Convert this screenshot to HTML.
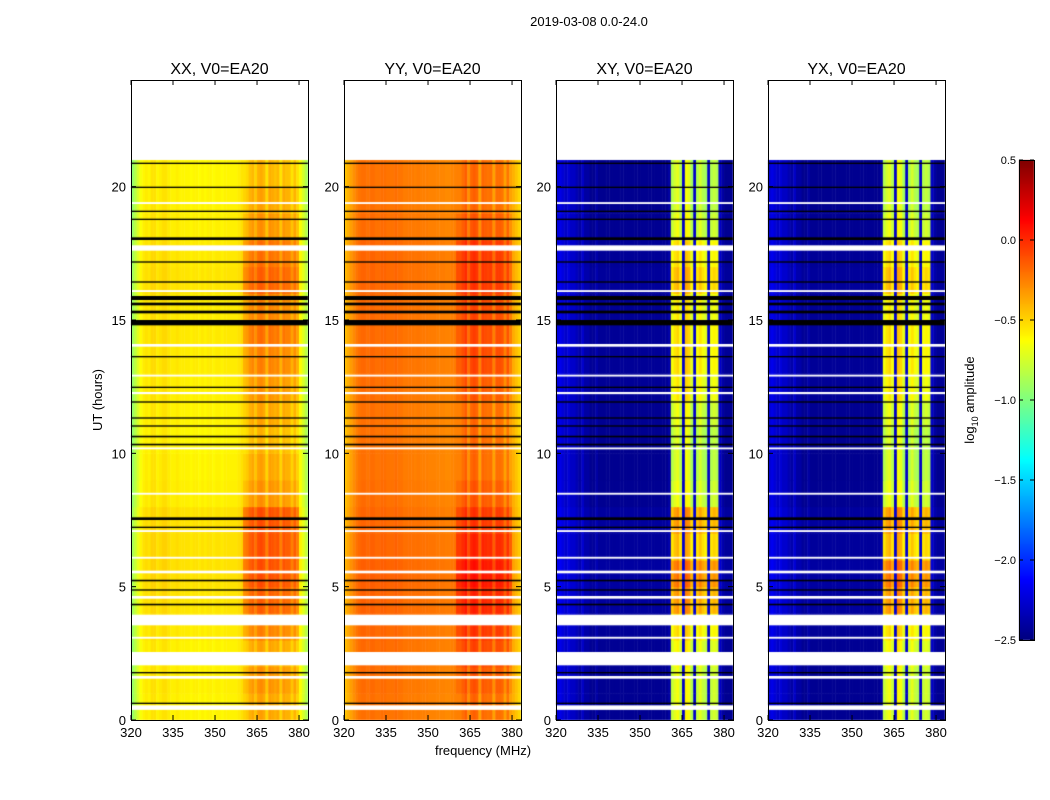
<!DOCTYPE html>
<html><head><meta charset="utf-8"><style>
body{margin:0;background:#fff;width:1050px;height:800px;overflow:hidden;position:relative;font-family:"Liberation Sans",sans-serif}
canvas{position:absolute;left:0;top:0}
svg{position:absolute;left:0;top:0}
text{font-family:"Liberation Sans",sans-serif;fill:#000}
</style></head><body>
<canvas id="cv" width="1050" height="800"></canvas>
<svg id="sv" width="1050" height="800"></svg>
<script>
// ---- data ----
const freqs = [320,321,322,323,324,325,326,327,328,329,330,331,332,333,334,335,336,337,338,339,340,341,342,343,344,345,346,347,348,349,350,351,352,353,354,355,356,357,358,359,360,361,362,363,364,365,366,367,368,369,370,371,372,373,374,375,376,377,378,379,380,381,382,383];
const baseXX = [-0.95,-0.85,-0.75,-0.65,-0.6,-0.58,-0.6,-0.55,-0.55,-0.6,-0.58,-0.55,-0.55,-0.58,-0.6,-0.6,-0.58,-0.6,-0.6,-0.6,-0.6,-0.62,-0.6,-0.6,-0.62,-0.6,-0.62,-0.6,-0.6,-0.62,-0.6,-0.6,-0.62,-0.6,-0.6,-0.6,-0.6,-0.6,-0.58,-0.55,-0.55,-0.52,-0.45,-0.42,-0.5,-0.4,-0.38,-0.42,-0.55,-0.4,-0.42,-0.45,-0.42,-0.55,-0.42,-0.45,-0.45,-0.55,-0.45,-0.55,-0.65,-0.75,-0.85,-0.95];
const baseYY = [-0.45,-0.4,-0.35,-0.3,-0.25,-0.22,-0.2,-0.2,-0.22,-0.2,-0.2,-0.22,-0.22,-0.2,-0.2,-0.22,-0.22,-0.22,-0.2,-0.22,-0.22,-0.24,-0.24,-0.24,-0.24,-0.25,-0.24,-0.25,-0.25,-0.25,-0.26,-0.26,-0.26,-0.27,-0.27,-0.27,-0.28,-0.28,-0.27,-0.26,-0.25,-0.25,-0.2,-0.15,-0.3,-0.18,-0.15,-0.18,-0.35,-0.18,-0.2,-0.22,-0.2,-0.35,-0.2,-0.2,-0.22,-0.35,-0.22,-0.35,-0.4,-0.45,-0.5,-0.55];
const baseXY = [-2.25,-2.2,-2.25,-2.3,-2.25,-2.3,-2.3,-2.35,-2.4,-2.3,-2.4,-2.4,-2.45,-2.45,-2.4,-2.45,-2.45,-2.45,-2.45,-2.45,-2.45,-2.45,-2.45,-2.45,-2.45,-2.45,-2.45,-2.45,-2.45,-2.45,-2.45,-2.45,-2.45,-2.45,-2.45,-2.45,-2.45,-2.45,-2.45,-2.45,-2.4,-0.85,-0.75,-0.7,-0.85,-2.3,-0.65,-0.7,-0.9,-2.3,-0.85,-0.75,-0.85,-0.9,-2.3,-0.85,-0.8,-0.85,-2.3,-2.4,-2.45,-2.45,-2.45,-2.45];
const baseYX = baseXY;
const hours = [0,1,2,3,4,5,6,7,8,9,10,11,12,13,14,15,16,17,18,19,20];
const boostXX = [0.05,0.1,0.05,0.15,0.25,0.3,0.3,0.3,0.1,0.05,0.0,0.05,0.1,0.15,0.2,0.15,0.25,0.2,0.1,0.05,0.0];
const boostYY = [0.0,0.05,0.1,0.15,0.2,0.25,0.2,0.15,0.05,0.0,0.0,0.0,0.05,0.1,0.1,0.1,0.15,0.15,0.05,0.0,0.0];
const boostXY = [0.05,0.05,0.1,0.2,0.4,0.5,0.3,0.4,0.05,0.0,0.0,0.05,0.15,0.2,0.2,0.15,0.3,0.2,0.05,0.0,0.0];
const whiteRows = [[0.38,0.55],[1.55,1.65],[2.05,2.55],[3.05,3.12],[3.55,3.95],[4.55,4.65],[5.5,5.6],[6.05,6.12],[7.05,7.12],[8.45,8.52],[10.15,10.22],[12.22,12.3],[12.88,12.95],[14.0,14.1],[16.05,16.12],[17.6,17.8],[19.35,19.42]];
const blackRows = [[0.6,0.65],[1.75,1.8],[4.3,4.36],[4.85,4.9],[5.2,5.26],[7.2,7.25],[7.5,7.6],[10.3,10.36],[10.6,10.66],[11.0,11.05],[11.3,11.35],[11.9,11.95],[12.45,12.5],[13.6,13.65],[14.8,15.0],[15.25,15.35],[15.55,15.65],[15.75,15.9],[16.4,16.45],[17.15,17.2],[18.0,18.1],[18.75,18.8],[19.05,19.1],[19.95,20.0],[20.85,20.9]];
const cbTicks = [-2.5,-2.0,-1.5,-1.0,-0.5,0.0,0.5];
const xTicks = [320,335,350,365,380];
const yTicks = [0,5,10,15,20];

// ---- layout ----
const panels = [
 {name:'xx',title:'XX, V0=EA20',x0:131,base:baseXX,boost:boostXX,bandOnly:false},
 {name:'yy',title:'YY, V0=EA20',x0:344,base:baseYY,boost:boostYY,bandOnly:false},
 {name:'xy',title:'XY, V0=EA20',x0:556,base:baseXY,boost:boostXY,bandOnly:true},
 {name:'yx',title:'YX, V0=EA20',x0:768,base:baseYX,boost:boostXY,bandOnly:true}];
const PW=177, PT=80, PB=720, fMin=320, fMax=383.2, tMax=24, tData=21;
const vmin=-2.5, vmax=0.5;
const xs=(f,p)=>p.x0+(f-fMin)/(fMax-fMin)*PW;
const ys=t=>PB-t/tMax*(PB-PT);
function jet(v){let x=(v-vmin)/(vmax-vmin);x=Math.max(0,Math.min(1,x));
 const c=a=>Math.round(255*Math.max(0,Math.min(1,1.5-Math.abs(4*x-a))));
 return `rgb(${c(3)},${c(2)},${c(1)})`;}
const ctx=document.getElementById('cv').getContext('2d');
panels.forEach(p=>{
 ctx.save();ctx.beginPath();ctx.rect(p.x0,PT,PW,PB-PT);ctx.clip();
 hours.forEach((h,hi)=>{
  p.base.forEach((b,ci)=>{
   const f=freqs[ci];
   const inBand=f>=360&&f<=379&&b>-2;
   const v=b+p.boost[hi]*(inBand?1:(p.bandOnly?0.1:0.2));
   ctx.fillStyle=jet(v);
   const xa=xs(f,p), xb=xs(f+1,p);
   ctx.fillRect(xa,ys(h+1),xb-xa+0.5,ys(h)-ys(h+1)+0.5);
  });
 });
 ctx.fillStyle='#fff';ctx.fillRect(p.x0,PT,PW,ys(tData)-PT);
 whiteRows.forEach(r=>{ctx.fillStyle='#fff';ctx.fillRect(p.x0,ys(r[1]),PW,Math.max(1,ys(r[0])-ys(r[1])));});
 blackRows.forEach(r=>{ctx.fillStyle='#000';ctx.fillRect(p.x0,ys(r[1]),PW,Math.max(1,ys(r[0])-ys(r[1])));});
 ctx.restore();
});
// colorbar
const cbX=1019,cbW=15,cbT=160,cbB=640;
for(let y=cbT;y<cbB;y++){ctx.fillStyle=jet(vmax-(y-cbT+0.5)/(cbB-cbT)*(vmax-vmin));ctx.fillRect(cbX,y,cbW,1);}

// ---- svg overlay ----
const sv=document.getElementById('sv');const NS='http://www.w3.org/2000/svg';
function el(tag,attrs,txt){const e=document.createElementNS(NS,tag);for(const k in attrs)e.setAttribute(k,attrs[k]);if(txt!==undefined)e.textContent=txt;sv.appendChild(e);return e;}
let e;
panels.forEach(p=>{
 e=el('rect',{x:p.x0+0.5,y:PT+0.5,width:PW,height:PB-PT,fill:'none',stroke:'#000','stroke-width':1});
 
 
 e=el('text',{x:p.x0+PW/2,y:74,'text-anchor':'middle','font-size':16},p.title);
 
 
 xTicks.forEach(f=>{const x=xs(f,p);
  el('line',{x1:x,x2:x,y1:PB,y2:PB-5,stroke:'#000'});el('line',{x1:x,x2:x,y1:PT,y2:PT+5,stroke:'#000'});
  e=el('text',{x:x,y:737,'text-anchor':'middle','font-size':13},String(f));
  
  });
 yTicks.forEach(t=>{const y=ys(t);
  el('line',{x1:p.x0,x2:p.x0+5,y1:y,y2:y,stroke:'#000'});el('line',{x1:p.x0+PW-5,x2:p.x0+PW,y1:y,y2:y,stroke:'#000'});
  e=el('text',{x:p.x0-5,y:y+5,'text-anchor':'end','font-size':13},String(t));
  
  });
});
e=el('text',{x:589,y:26,'text-anchor':'middle','font-size':13},'2019-03-08 0.0-24.0');


e=el('text',{x:483,y:755,'text-anchor':'middle','font-size':13},'frequency (MHz)');


e=el('text',{x:102,y:400,'text-anchor':'middle','font-size':13,transform:'rotate(-90 102 400)'},'UT (hours)');


e=el('rect',{x:cbX+0.5,y:cbT+0.5,width:cbW,height:cbB-cbT,fill:'none',stroke:'#000'});


cbTicks.forEach(v=>{const y=cbT+(vmax-v)/(vmax-vmin)*(cbB-cbT);
 el('line',{x1:cbX,x2:cbX+4,y1:y,y2:y,stroke:'#000'});el('line',{x1:cbX+cbW-4,x2:cbX+cbW,y1:y,y2:y,stroke:'#000'});
 e=el('text',{x:cbX-3,y:y+4,'text-anchor':'end','font-size':11},v.toFixed(1).replace('-','\u2212'));
 
 });
const lab=el('text',{x:974,y:400,'text-anchor':'middle','font-size':13,transform:'rotate(-90 974 400)'});


lab.appendChild(document.createTextNode('log'));
const sub=document.createElementNS(NS,'tspan');sub.setAttribute('font-size','9');sub.setAttribute('dy','4');sub.textContent='10';lab.appendChild(sub);
const rest=document.createElementNS(NS,'tspan');rest.setAttribute('dy','-4');rest.textContent=' amplitude';lab.appendChild(rest);
</script>
</body></html>
